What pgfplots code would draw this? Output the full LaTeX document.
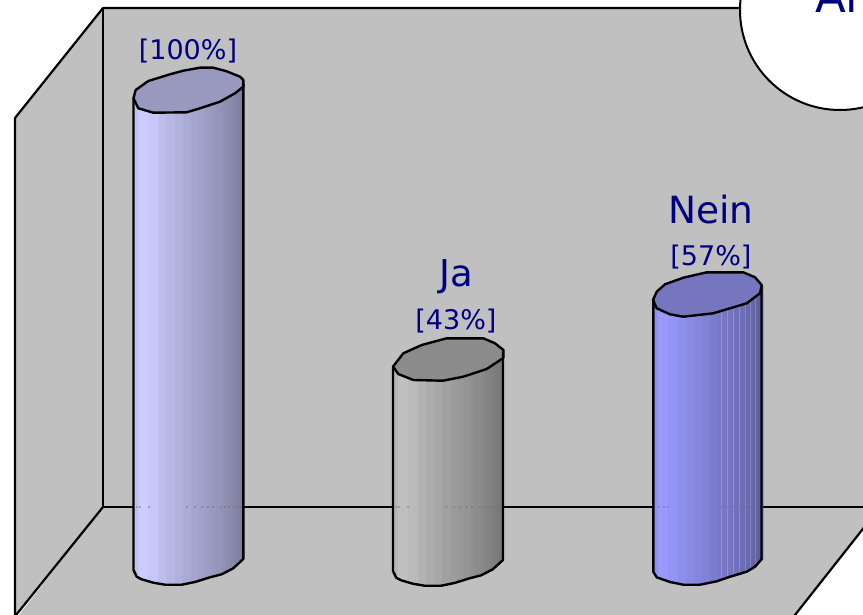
\documentclass[border=0pt]{standalone}
\usepackage{pgfplots}
\pgfplotsset{compat=1.18}
\usepackage{fontspec}
\setmainfont{DejaVu Sans}
\definecolor{wall}{HTML}{C0C0C0}
\definecolor{navytxt}{HTML}{000080}
\definecolor{baseA}{HTML}{CCCCFF}
\definecolor{baseB}{HTML}{C0C0C0}
\definecolor{baseC}{HTML}{9999FF}
\definecolor{capA}{HTML}{9999C0}
\definecolor{capB}{HTML}{8C8C8C}
\definecolor{capC}{HTML}{7676BE}
\newcommand\strip[5]{%
  \pgfmathsetmacro\xa{\barx+#1}%
  \pgfmathsetmacro\xb{\barx+#2+0.4}%
  \pgfmathsetmacro\ya{#3+\barshift}%
  \pgfmathsetmacro\yb{#4+\barshift}%
  \pgfmathsetmacro\ta{\bartop-#1*0.13}%
  \pgfmathsetmacro\tb{\bartop-#2*0.13}%
  \edef\temp{\noexpand\addplot[fill=\barcol!#5!black,draw=none] coordinates {(\xa,\ta) (\xb,\tb) (\xb,\yb) (\xa,\ya)} -- cycle;}\temp}
\newcommand\body{%
  \strip{0}{5}{570}{577.5}{95}
  \strip{5}{15}{577.5}{581.3}{100}
  \strip{15}{25}{581.3}{583.5}{97}
  \strip{25}{33}{583.5}{584.7}{93}
  \strip{33}{41}{584.7}{584.7}{90}
  \strip{41}{49}{584.7}{584.5}{87}
  \strip{49}{57}{584.5}{583}{84}
  \strip{57}{64}{583}{581.4}{81}
  \strip{64}{71}{581.4}{579.2}{79}
  \strip{71}{77}{579.2}{577.3}{77}
  \strip{77}{82}{577.3}{576}{75}
  \strip{82}{88}{576}{574.3}{73}
  \strip{88}{92}{574.3}{572.3}{71}
  \strip{92}{96}{572.3}{570.3}{69}
  \strip{96}{100}{570.3}{568.3}{67}
  \strip{100}{103}{568.3}{565.5}{65}
  \strip{103}{106}{565.5}{562.8}{64}
  \strip{106}{108}{562.8}{560.9}{62}
  \strip{108}{110}{560.9}{559}{60}
}
\begin{document}
\begin{tikzpicture}
\useasboundingbox (0,0) rectangle (863pt,615pt);
\clip (0,0) rectangle (863pt,615pt);
\begin{axis}[
  at={(0,0)}, anchor=south west, scale only axis,
  width=863pt, height=615pt,
  xmin=0, xmax=863, ymin=0, ymax=615, y dir=reverse,
  hide axis, clip=true,
  line join=round, line cap=round,
]
% walls and floor
\addplot[fill=wall,draw=none] coordinates {(103,8) (863,8) (863,507) (103,507)} -- cycle;
\addplot[fill=wall,draw=none] coordinates {(15,118) (103,8) (103,507) (15,615)} -- cycle;
\addplot[fill=wall,draw=none] coordinates {(15,620) (103,507) (863,507) (863,529) (795,615) (791,620)} -- cycle;
\addplot[black,line width=2.2pt] coordinates {(15,620) (15,118) (103,8) (863,8)};
\addplot[black,line width=2.2pt] coordinates {(103,8) (103,507) (863,507)};
\addplot[black,line width=2.2pt] coordinates {(103,507) (12,620)};
\addplot[black,line width=2.2pt] coordinates {(866,525) (791,620)};
\draw[black,line width=2pt,fill=white] (axis cs:840,10) circle[radius=100pt];

% bar 1
\def\barx{133.5}\def\barshift{0}\def\bartop{98}\def\barcol{baseA}
\body
\addplot[fill=capA,draw=black,line width=2.4pt] coordinates {(133.5,98.3) (135.7,90) (148.3,81) (170,74.3) (183.3,70.7) (200,67.7) (213.3,67.7) (226.7,71.3) (240,76.7) (243.3,80) (243.3,86.7) (235,93.3) (220,101.7) (200,108.3) (186.7,112.3) (153.3,112.7) (138.3,108.3)} -- cycle;
\addplot[black,line width=2.4pt] coordinates {(133.5,98.3) (133.5,570) (136.7,576.7) (141.7,579.3) (153.3,582.7) (165,584.7) (181.7,584.7) (195,582) (210,577.3) (221.7,574.3) (233.3,568.3) (243.3,559) (243.3,84)};
\addplot[only marks,mark=*,mark size=0.6pt,color=black!55,draw=none] coordinates {(137,507) (140,507) (149,507) (187,507) (195,507) (202,507) (208,507) (213,507) (221,507) (225,507) (229,507) (233,507) (237,507) (240,507)};

% bar 2
\def\barx{393}\def\barshift{1}\def\bartop{366}\def\barcol{baseB}
\body
\addplot[fill=capB,draw=black,line width=2.4pt] coordinates {(393,366.7) (403.3,353.3) (421.7,345) (446.7,338.3) (483.3,338.3) (495,343.3) (503.5,350) (503.3,358) (486.7,369) (463.3,376.7) (443,380.7) (413.3,380) (398.3,374)} -- cycle;
\addplot[black,line width=2.4pt] coordinates {(393,367) (393,571) (396.2,577.7) (401.2,580.3) (412.8,583.7) (424.5,585.7) (441.2,585.7) (454.5,583) (469.5,578.3) (481.2,575.3) (492.8,569.3) (503,560) (503,352)};
\addplot[only marks,mark=*,mark size=0.6pt,color=black!55,draw=none] coordinates {(396,507) (399,507) (408,507) (446,507) (454,507) (461,507) (467,507) (472,507) (480,507) (484,507) (488,507) (492,507) (496,507) (499,507)};

% bar 3
\def\barx{653}\def\barshift{0.5}\def\bartop{300}\def\barcol{baseC}
\body
\addplot[white,opacity=0.2,line width=0.8pt] coordinates {(721.7,313) (721.7,580)};
\addplot[white,opacity=0.2,line width=0.8pt] coordinates {(727,310) (727,578)};
\addplot[white,opacity=0.2,line width=0.8pt] coordinates {(733,308) (733,575)};
\addplot[white,opacity=0.2,line width=0.8pt] coordinates {(739,306) (739,573)};
\addplot[white,opacity=0.2,line width=0.8pt] coordinates {(745.3,303) (745.3,571)};
\addplot[white,opacity=0.2,line width=0.8pt] coordinates {(750.7,300) (750.7,568)};
\addplot[white,opacity=0.2,line width=0.8pt] coordinates {(755,297) (755,565)};
\addplot[fill=capC,draw=black,line width=2.4pt] coordinates {(653,300) (656.7,291.7) (665,284.3) (683.3,277.7) (706.7,272.3) (743.3,272.3) (755,277.3) (761.7,285) (760,293.3) (746.7,303.3) (713.3,313.3) (683.3,316.7) (670,314.3) (656.7,308.3)} -- cycle;
\addplot[black,line width=2.4pt] coordinates {(653.3,300) (653.3,571.7) (656.7,577.3) (670,582) (683.3,584.7) (700,584.7) (716.7,581.3) (730,576.7) (746.7,571.7) (755,566.7) (761.5,559.3) (761.5,285)};
\addplot[only marks,mark=*,mark size=0.6pt,color=black!55,draw=none] coordinates {(659,507) (664,507) (668,507) (722,507) (727,507) (733,507) (739,507) (745,507) (750,507) (753,507) (757,507)};

% labels
\node[text=navytxt,inner sep=0pt,font=\fontsize{27}{30}\selectfont] at (axis cs:188,51.5) {[100\%]};
\node[text=navytxt,inner sep=0pt,font=\fontsize{37}{40}\selectfont] at (axis cs:456,276.5) {Ja};
\node[text=navytxt,inner sep=0pt,font=\fontsize{27}{30}\selectfont] at (axis cs:456,321.5) {[43\%]};
\node[text=navytxt,inner sep=0pt,font=\fontsize{37.5}{40}\selectfont] at (axis cs:711,210) {Nein};
\node[text=navytxt,inner sep=0pt,font=\fontsize{27}{30}\selectfont] at (axis cs:711,257) {[57\%]};
\node[text=navytxt,inner sep=0pt,anchor=base west,font=\fontsize{45}{50}\selectfont] at (axis cs:815,13) {Al};
\end{axis}
\end{tikzpicture}
\end{document}
